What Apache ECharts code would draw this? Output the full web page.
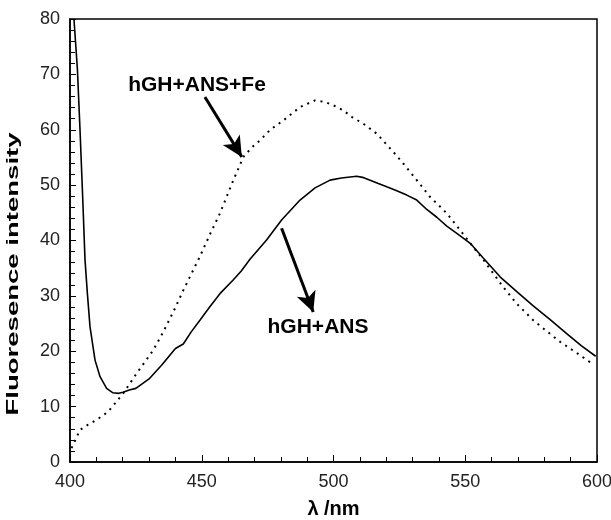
<!DOCTYPE html>
<html>
<head>
<meta charset="utf-8">
<script src="https://cdn.jsdelivr.net/npm/echarts@6/dist/echarts.min.js"></script>
<style>
  html, body { margin: 0; padding: 0; background: #fff; }
  #chart { width: 611px; height: 520px; }
</style>
</head>
<body>
<div id="chart"></div>
<script>
// wavelength (nm) / intensity
var ansWl  = [401.5, 402.8, 403.8, 404.8, 405.7, 406.6, 407.6, 409.5, 411.4, 413.9, 416.3, 418.5, 420.1, 422.5, 425, 430, 435, 440, 443, 446, 449.3, 453, 456.9, 462, 465, 468.3, 474.6, 480.3, 487.3, 493, 498.7, 503, 508.8, 511, 513.9, 517, 520.2, 524, 527.8, 531.6, 535.4, 539.2, 543, 546.8, 551.9, 556.9, 563.3, 570, 575.8, 582, 588.5, 594, 599.5];
var ansVal = [80, 71, 60, 48, 36.5, 30.4, 24.4, 18.4, 15.4, 13.3, 12.5, 12.4, 12.6, 13.0, 13.3, 15, 17.6, 20.5, 21.3, 23.5, 25.6, 28, 30.4, 32.9, 34.5, 36.6, 40.1, 43.7, 47.3, 49.5, 50.9, 51.3, 51.6, 51.4, 50.9, 50.3, 49.7, 49, 48.2, 47.3, 45.6, 44.2, 42.6, 41.3, 39.5, 36.8, 33.4, 30.6, 28.2, 25.8, 23.2, 21, 19.1];

var feWl  = [400.6, 403.8, 407, 410.1, 414.5, 417.1, 420.2, 425.3, 431.6, 435.4, 439.2, 443, 446.8, 449.3, 453, 456.9, 462, 465.8, 469, 472.1, 476, 481, 487.3, 493, 496.8, 500, 503.7, 507, 511.3, 516.4, 522.7, 526.5, 531.6, 536.6, 540.5, 543, 547.5, 551.9, 556.9, 564.4, 569.5, 575.8, 581, 586, 592, 598];
var feVal = [2.5, 5.8, 6.8, 7.6, 9.1, 10.6, 12.4, 16, 20.2, 23.5, 27.1, 31, 34.7, 37.1, 41, 44.9, 50.9, 55.1, 56.8, 58.1, 60, 61.7, 64.1, 65.3, 65, 64.4, 63.5, 62.3, 61.1, 59.3, 56, 53.9, 50.9, 47.9, 46.1, 44.9, 42.2, 39.5, 36.5, 31.6, 28.6, 25.6, 23.6, 21.7, 19.8, 17.8];

// arrows in data coordinates: [fromWl, fromVal, toWl, toVal]
var arrowFe  = [451.2, 65.9, 465.2, 55.1];
var arrowAns = [480.3, 42.2, 492.3, 27.1];

function pairs(xs, ys) {
    var out = [];
    for (let i = 0; i < xs.length; i++) {
        out.push([xs[i], ys[i]]);
    }
    return out;
}

function arrowLine(a) {
    return [{coord: [a[0], a[1]]}, {coord: [a[2], a[3]]}];
}

var font = '"Liberation Sans", Arial, Helvetica, sans-serif';
var myChart = echarts.init(document.getElementById('chart'));

var options = {
    animation: false,
    backgroundColor: '#fff',
    textStyle: {fontFamily: font},
    grid: {
        left: 70,
        top: 19,
        right: 14,
        bottom: 58,
        containLabel: false,
        outerBoundsMode: 'none',
        show: true,
        borderColor: '#000',
        borderWidth: 1.5
    },
    xAxis: {
        type: 'value',
        min: 400,
        max: 600,
        interval: 50,
        name: 'λ /nm',
        nameLocation: 'middle',
        nameGap: 37,
        nameTextStyle: {fontFamily: font, fontSize: 20, fontWeight: 'bold', color: '#000'},
        axisLine: {lineStyle: {color: '#000', width: 1.5}},
        axisTick: {inside: true, length: 7, lineStyle: {color: '#000', width: 1}},
        minorTick: {show: true, splitNumber: 5, length: 5, lineStyle: {color: '#000', width: 1}},
        axisLabel: {fontFamily: font, fontSize: 18, color: '#222', margin: 11},
        splitLine: {show: false}
    },
    yAxis: {
        type: 'value',
        min: 0,
        max: 80,
        interval: 10,
        axisLine: {show: true, lineStyle: {color: '#000', width: 1.5}},
        axisTick: {show: true, inside: true, length: 6, lineStyle: {color: '#000', width: 1}},
        minorTick: {show: true, splitNumber: 5, length: 5, lineStyle: {color: '#000', width: 1}},
        axisLabel: {fontFamily: font, fontSize: 18, color: '#222', margin: 10},
        splitLine: {show: false}
    },
    graphic: [
        {
            type: 'text',
            x: 13,
            y: 274,
            rotation: Math.PI / 2,
            scaleX: 1.62,
            style: {
                text: 'Fluoresence intensity',
                font: 'bold 17px ' + font,
                fill: '#000',
                align: 'center',
                verticalAlign: 'middle'
            }
        },
        {
            type: 'text',
            x: 197,
            y: 85,
            style: {
                text: 'hGH+ANS+Fe',
                font: 'bold 21px ' + font,
                fill: '#000',
                align: 'center',
                verticalAlign: 'middle'
            }
        },
        {
            type: 'text',
            x: 318,
            y: 327,
            style: {
                text: 'hGH+ANS',
                font: 'bold 21px ' + font,
                fill: '#000',
                align: 'center',
                verticalAlign: 'middle'
            }
        }
    ],
    series: [
        {
            name: 'hGH+ANS',
            type: 'line',
            data: pairs(ansWl, ansVal),
            symbol: 'none',
            lineStyle: {color: '#000', width: 1.6},
            markLine: {
                silent: true,
                symbol: ['none', 'arrow'],
                symbolSize: [15, 20],
                label: {show: false},
                lineStyle: {color: '#000', width: 3, type: 'solid'},
                data: [arrowLine(arrowFe), arrowLine(arrowAns)]
            }
        },
        {
            name: 'hGH+ANS+Fe',
            type: 'line',
            data: pairs(feWl, feVal),
            symbol: 'none',
            lineStyle: {color: '#000', width: 2, type: [2, 5]}
        }
    ]
};

myChart.setOption(options);
</script>
</body>
</html>
